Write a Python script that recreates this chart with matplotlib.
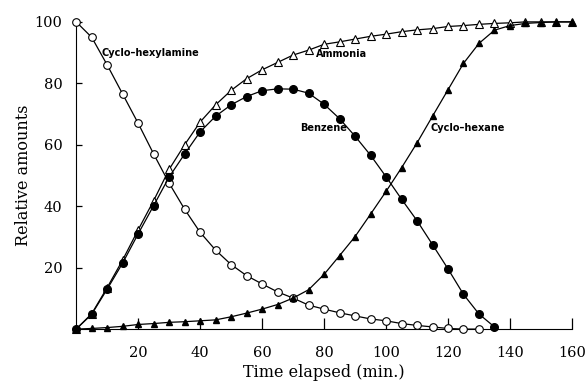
import matplotlib
matplotlib.use("Agg")
import matplotlib.pyplot as plt
import numpy as np

time = list(range(0, 165, 5))

cyclohexylamine = [100, 95, 86, 76.5, 67, 57, 47.5, 39, 31.5, 25.7, 21, 17.4, 14.7, 12.1, 10.1, 7.8,
                   6.5, 5.3, 4.3, 3.3, 2.7, 1.8, 1.2, 0.7, 0.2, 0, 0]
ammonia = [0, 5, 13.5, 22.5, 32.3, 41.8, 52, 60, 67.4, 73, 77.7, 81.5, 84.4, 86.8, 89.2, 90.8,
           92.7, 93.5, 94.4, 95.3, 96, 96.8, 97.4, 97.8, 98.5, 98.8, 99.2, 99.5, 99.7, 100, 100, 100, 100]
benzene = [0, 4.8, 13, 21.5, 31, 40.2, 49.5, 57, 64.2, 69.3, 73, 75.7, 77.6, 78.2, 78.1, 76.8,
           73.2, 68.5, 62.8, 56.6, 49.6, 42.3, 35.3, 27.5, 19.6, 11.3, 4.9, 0.7]
cyclohexane = [0, 0.2, 0.5, 0.9, 1.5, 1.8, 2.2, 2.4, 2.7, 3.0, 4.0, 5.2, 6.5, 8.0, 10.1, 12.8,
               17.8, 23.9, 30.1, 37.4, 44.8, 52.5, 60.6, 69.3, 77.9, 86.5, 93, 97.3, 98.8, 99.5, 99.8, 100, 100]

labels = ["Cyclo\u2013hexylamine", "Ammonia", "Benzene", "Cyclo\u2013hexane"]
label_pos = [(8.3, 90), (77.3, 89.5), (72.3, 65.5), (114.3, 65.5)]

xticks = [20, 40, 60, 80, 100, 120, 140, 160]
yticks = [20, 40, 60, 80, 100]

fig = plt.figure(figsize=(5.86, 3.84), dpi=100)
ax = fig.add_axes([0.130, 0.143, 0.846, 0.800])

ms = 5.5
lw = 0.9
def tl(n):
    return time[:n]

ax.plot(tl(len(cyclohexylamine)), cyclohexylamine, '-o', color='black', mfc='white', mec='black',
        ms=ms, lw=lw, mew=0.8, clip_on=False, zorder=3)
ax.plot(tl(len(ammonia)), ammonia, '-^', color='black', mfc='white', mec='black',
        ms=ms, lw=lw, mew=0.8, clip_on=False, zorder=3)
ax.plot(tl(len(benzene)), benzene, '-o', color='black', mfc='black', mec='black',
        ms=ms, lw=lw, clip_on=False, zorder=4)
ax.plot(tl(len(cyclohexane)), cyclohexane, '-^', color='black', mfc='black', mec='black',
        ms=ms - 0.5, lw=lw, clip_on=False, zorder=4)

for lab, (x, y) in zip(labels, label_pos):
    ax.text(x, y, lab, fontsize=7, fontweight='bold', family='DejaVu Sans',
            ha='left', va='center', color='black')

ax.set_xlim(0, 160)
ax.set_ylim(0, 100)
ax.set_xticks(xticks)
ax.set_yticks(yticks)
ax.spines['top'].set_visible(False)
ax.spines['right'].set_visible(False)
ax.tick_params(axis='x', direction='in', length=8, width=0.9, pad=12)
ax.tick_params(axis='y', direction='in', length=4, width=0.9, pad=10)
for t in ax.get_xticklabels() + ax.get_yticklabels():
    t.set_fontfamily('DejaVu Serif')
    t.set_fontsize(10.5)
ax.set_xlabel("Time elapsed (min.)", fontsize=11.5, family='DejaVu Serif', labelpad=3)
ax.set_ylabel("Relative amounts", fontsize=11.5, family='DejaVu Serif', labelpad=2)

fig.savefig("out.png", dpi=100)
